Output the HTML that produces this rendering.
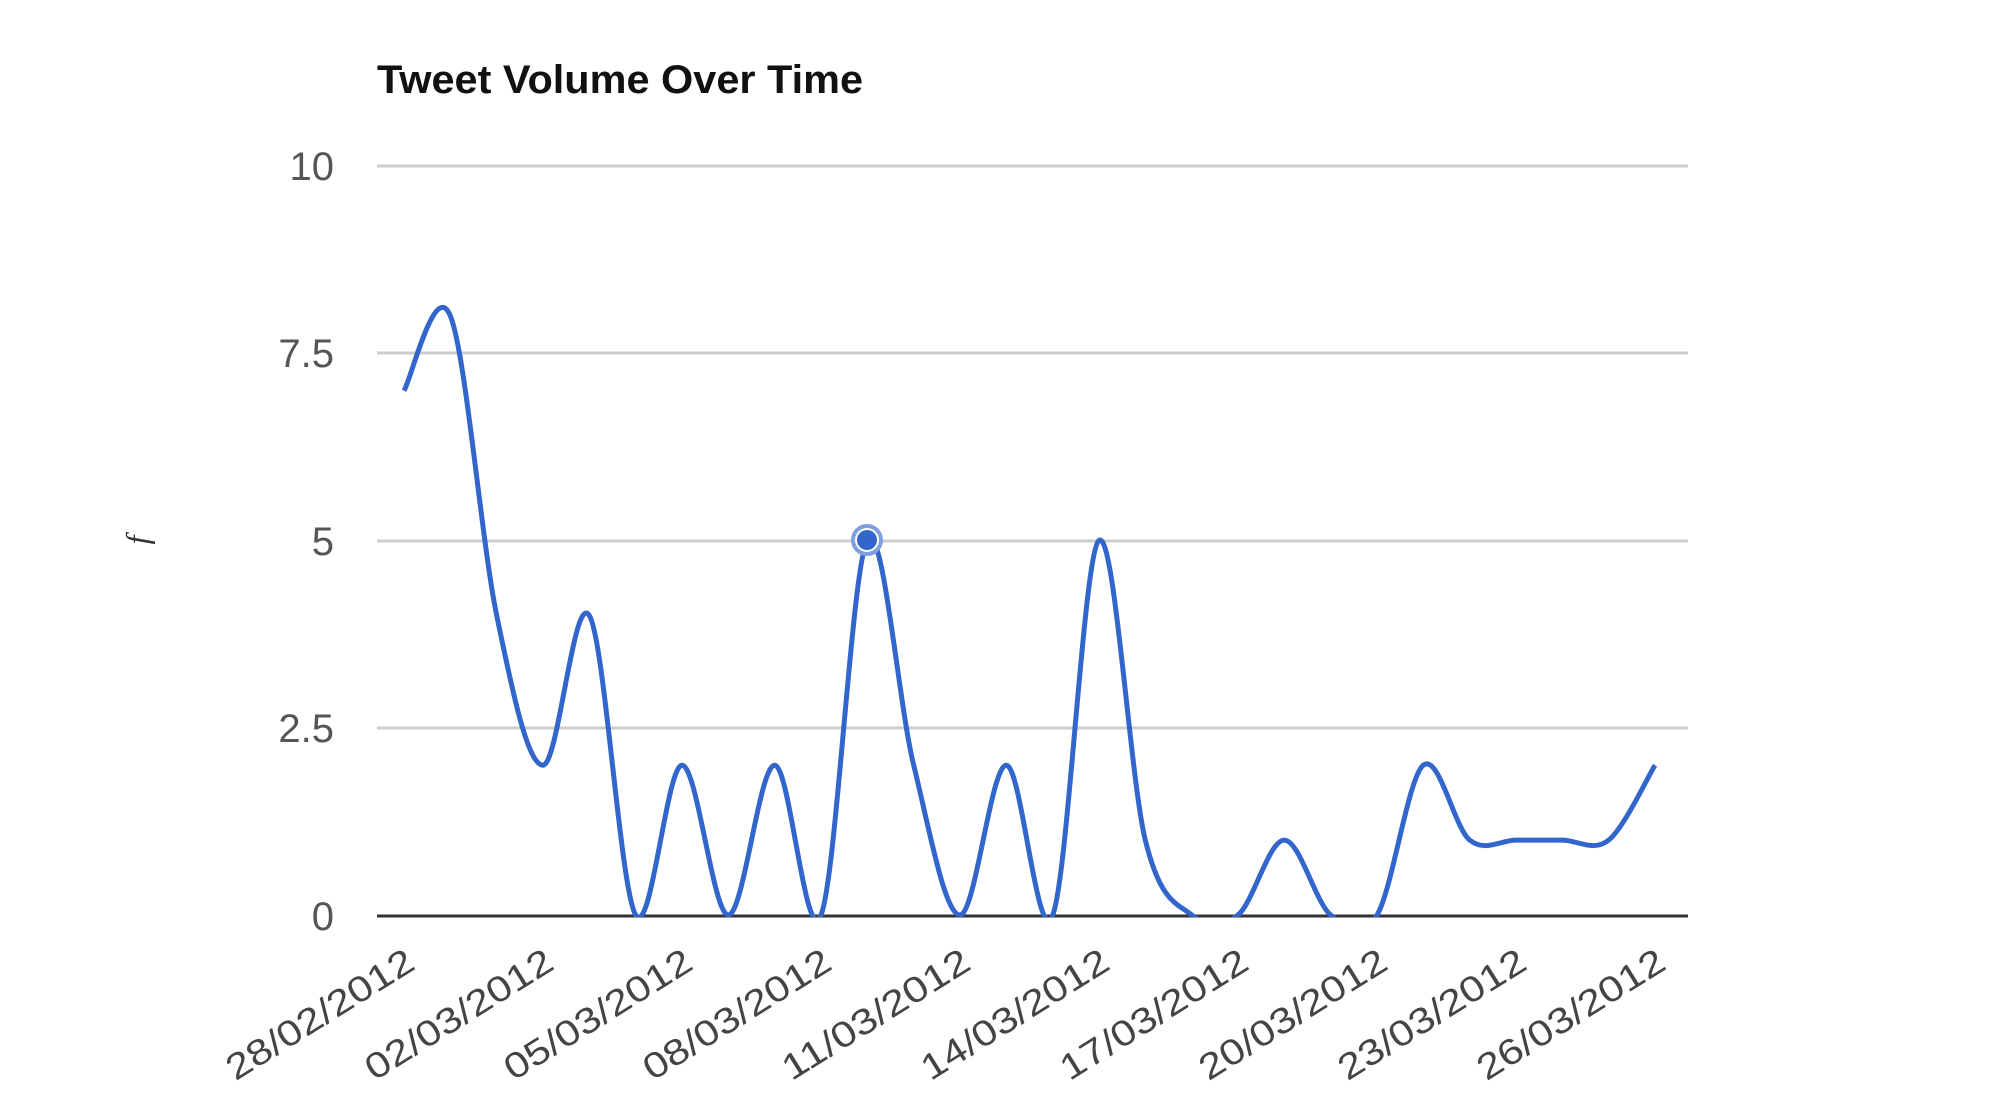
<!DOCTYPE html>
<html><head><meta charset="utf-8"><style>
html,body{margin:0;padding:0;background:#fff;}
svg{display:block;}
</style></head><body>
<svg id="s" width="2000" height="1113" viewBox="0 0 2000 1113" xmlns="http://www.w3.org/2000/svg">
<defs><clipPath id="c"><rect x="370" y="100" width="1320" height="817"/></clipPath></defs>
<text x="377" y="93" font-family="Liberation Sans, sans-serif" font-weight="bold" font-size="40" fill="#111" textLength="486" lengthAdjust="spacingAndGlyphs">Tweet Volume Over Time</text>
<g stroke="#ccc" stroke-width="3">
<line x1="377" y1="166" x2="1688" y2="166"/>
<line x1="377" y1="353" x2="1688" y2="353"/>
<line x1="377" y1="541" x2="1688" y2="541"/>
<line x1="377" y1="728" x2="1688" y2="728"/>
</g>
<line x1="377" y1="916" x2="1688" y2="916" stroke="#333" stroke-width="3"/>
<g font-family="Liberation Sans, sans-serif" font-size="40" fill="#555" text-anchor="end">
<text x="334" y="180">10</text>
<text x="334" y="367">7.5</text>
<text x="334" y="555">5</text>
<text x="334" y="742">2.5</text>
<text x="334" y="930">0</text>
</g>
<text transform="translate(148,540) rotate(-90)" font-family="Liberation Serif, serif" font-style="italic" font-size="32" fill="#333" text-anchor="middle">f</text>
<g id="xl" font-family="Liberation Sans, sans-serif" font-size="36" fill="#444" text-anchor="end"></g>
<path id="p" clip-path="url(#c)" fill="none" stroke="#3366cc" stroke-width="5" stroke-linejoin="round"/>
<circle cx="867" cy="540" r="14" fill="#fff" stroke="#7f9fe0" stroke-width="4"/>
<circle cx="867" cy="540" r="10" fill="#3366cc"/>
</svg>
<script>
var v=[7,8,4,2,4,0,2,0,2,0,5,2,0,2,0,5,1,0,0,1,0,0,2,1,1,1,1,2];
var x0=404,st=(1655-404)/27;
function X(i){return x0+st*i}function Y(a){return 915-74.9*a}
var P=v.map(function(a,i){return [X(i),Y(a)]});
var d="M"+P[0][0].toFixed(1)+","+P[0][1].toFixed(1);
for(var i=0;i<P.length-1;i++){
 var p0=P[i>0?i-1:i],p1=P[i],p2=P[i+1],p3=P[i+2<P.length?i+2:i+1];
 var c1=[p1[0]+(p2[0]-p0[0])/6,p1[1]+(p2[1]-p0[1])/6];
 var c2=[p2[0]-(p3[0]-p1[0])/6,p2[1]-(p3[1]-p1[1])/6];
 d+=" C"+c1[0].toFixed(1)+","+c1[1].toFixed(1)+" "+c2[0].toFixed(1)+","+c2[1].toFixed(1)+" "+p2[0].toFixed(1)+","+p2[1].toFixed(1);
}
document.getElementById("p").setAttribute("d",d);
var labs=["28/02/2012","02/03/2012","05/03/2012","08/03/2012","11/03/2012","14/03/2012","17/03/2012","20/03/2012","23/03/2012","26/03/2012"];
var g=document.getElementById("xl"),h="";
labs.forEach(function(t,k){var x=X(k*3)+13,y=968;
h+='<text transform="translate('+x.toFixed(1)+','+y+') rotate(-32)" textLength="214" lengthAdjust="spacingAndGlyphs">'+t+'</text>';});
g.innerHTML=h;
</script>
</body></html>
